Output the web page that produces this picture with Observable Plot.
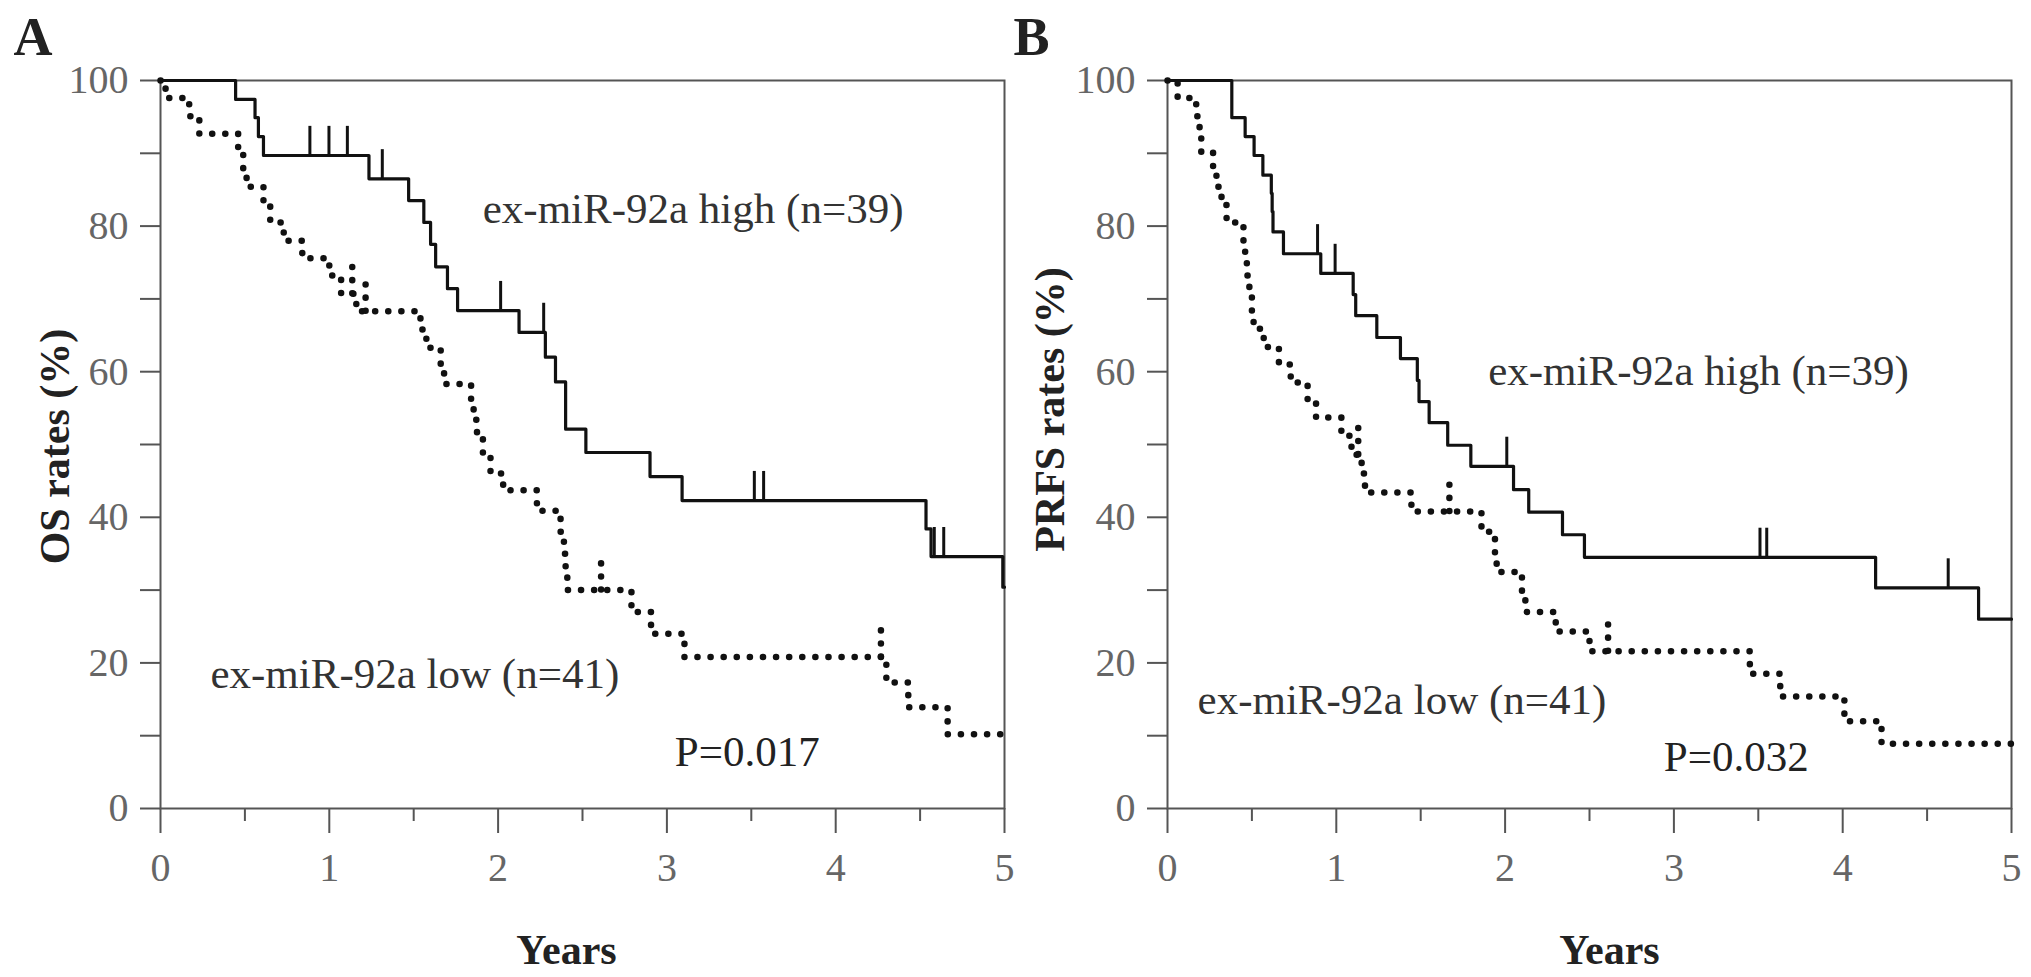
<!DOCTYPE html>
<html>
<head>
<meta charset="utf-8">
<script src="https://cdn.jsdelivr.net/npm/d3@7"></script>
<script src="https://cdn.jsdelivr.net/npm/@observablehq/plot@0.6"></script>
<style>
  body { margin: 0; background: #fff; }
  #fig { position: relative; width: 2031px; height: 977px; overflow: hidden; background: #fff; }
  #panel-a { position: absolute; left: 0; top: 0; }
  #panel-b { position: absolute; left: 1010px; top: 0; }
  #fig svg { overflow: visible; }
</style>
</head>
<body>
<div id="fig"><div id="panel-a"></div><div id="panel-b"></div></div>
<script>
// OS, ex-miR-92a high (n=39): step times (years) and rate after each step (%)
const osHighYears = [0, 0.445, 0.56, 0.58, 0.61, 1.235, 1.47, 1.56, 1.60, 1.63, 1.70, 1.76, 2.124, 2.28, 2.34, 2.40, 2.52, 2.90, 3.09, 4.535, 4.565, 4.99, 5.0];
const osHighRate = [100, 97.4, 94.9, 92.3, 89.7, 86.5, 83.5, 80.5, 77.5, 74.4, 71.4, 68.4, 65.4, 62.0, 58.6, 52.1, 48.9, 45.6, 42.3, 38.4, 34.6, 30.4, 30.4];
const osHighCensored = [0.885, 0.998, 1.107, 1.314, 2.015, 2.27, 3.518, 3.573, 4.584, 4.640];

// OS, ex-miR-92a low (n=41)
const osLowYears = [0, 0.03, 0.17, 0.23, 0.46, 0.49, 0.51, 0.61, 0.65, 0.73, 0.84, 1.00, 1.07, 1.16, 1.54, 1.575, 1.66, 1.68, 1.84, 1.855, 1.875, 1.91, 1.955, 2.03, 2.23, 2.37, 2.39, 2.40, 2.41, 2.79, 2.906, 3.104, 4.30, 4.43, 4.663, 5.0];
const osLowRate = [100, 97.6, 95.1, 92.7, 90.2, 87.8, 85.4, 82.9, 80.5, 78.0, 75.6, 73.2, 70.7, 68.3, 65.8, 63.3, 60.8, 58.3, 55.9, 53.4, 50.9, 48.5, 46.0, 43.7, 40.9, 38.0, 35.0, 32.5, 30.0, 27.0, 24.0, 20.8, 17.3, 13.9, 10.2, 10.2];
const osLowCensored = [1.136, 1.215, 2.61, 4.268];

// PRFS, ex-miR-92a high (n=39)
const prfsHighYears = [0, 0.381, 0.46, 0.513, 0.565, 0.615, 0.62, 0.625, 0.687, 0.908, 1.10, 1.115, 1.24, 1.38, 1.48, 1.49, 1.55, 1.66, 1.797, 2.05, 2.14, 2.34, 2.47, 4.195, 4.805, 5.0];
const prfsHighRate = [100, 94.9, 92.3, 89.7, 87.0, 84.5, 82.0, 79.2, 76.2, 73.5, 70.6, 67.7, 64.7, 61.8, 58.8, 55.9, 53.0, 49.9, 47.0, 43.8, 40.7, 37.6, 34.5, 30.3, 26.0, 26.0];
const prfsHighCensored = [0.889, 0.993, 2.01, 3.51, 3.55, 4.625];

// PRFS, ex-miR-92a low (n=41)
const prfsLowYears = [0, 0.06, 0.17, 0.19, 0.20, 0.27, 0.29, 0.32, 0.35, 0.45, 0.46, 0.47, 0.485, 0.50, 0.51, 0.57, 0.66, 0.73, 0.83, 0.88, 1.03, 1.09, 1.15, 1.17, 1.445, 1.86, 1.94, 1.95, 2.10, 2.12, 2.30, 2.50, 3.45, 3.63, 4.01, 4.23, 5.0];
const prfsLowRate = [100, 97.6, 95.1, 92.7, 90.2, 87.8, 85.4, 82.9, 80.5, 78.0, 75.6, 73.2, 70.7, 68.3, 65.9, 63.4, 61.0, 58.5, 56.1, 53.7, 51.2, 48.6, 46.0, 43.4, 40.8, 38.0, 35.2, 32.5, 29.5, 27.0, 24.3, 21.6, 18.5, 15.4, 12.0, 8.9, 8.9];
const prfsLowCensored = [1.13, 1.67, 2.61];

const yearTicks = [0, 1, 2, 3, 4, 5];
const yearMinorTicks = [0.5, 1.5, 2.5, 3.5, 4.5];
const rateTicks = [0, 20, 40, 60, 80, 100];
const rateMinorTicks = [10, 30, 50, 70, 90];

const serif = "'Liberation Serif', 'DejaVu Serif', serif";

function steps(years, rates) {
  return years.map((t, i) => ({t, s: rates[i]}));
}

// censor marks sit on the curve level at that time
function censorMarks(times, years, rates) {
  return times.map((t) => {
    let s = rates[0];
    for (let i = 0; i < years.length; i++) if (years[i] <= t) s = rates[i];
    return {t, s};
  });
}

function drawPanel(p) {
  const high = steps(p.highYears, p.highRate);
  const low = steps(p.lowYears, p.lowRate);
  const highCens = censorMarks(p.highCensored, p.highYears, p.highRate);
  const lowCens = censorMarks(p.lowCensored, p.lowYears, p.lowRate);
  const axisStyle = {stroke: "#555", strokeWidth: 2, label: null};
  const dotted = {stroke: "#111", strokeWidth: 6.5, strokeDasharray: "0.1 13", strokeLinecap: "round"};

  return Plot.plot({
    width: p.width,
    height: 977,
    marginLeft: p.marginLeft,
    marginRight: p.marginRight,
    marginTop: 80,
    marginBottom: 169,
    x: {domain: [0, 5]},
    y: {domain: [0, 100]},
    style: {fontFamily: serif, background: "transparent", overflow: "visible"},
    marks: [
      Plot.axisY({...axisStyle, ticks: rateTicks, tickSize: 20, tickPadding: 12, fontSize: 40, fill: "#666", tickFormat: (d) => String(d)}),
      Plot.axisY({...axisStyle, ticks: rateMinorTicks, tickSize: 20, tickFormat: () => ""}),
      Plot.axisX({...axisStyle, ticks: yearTicks, tickSize: 25, tickPadding: 19, fontSize: 40, fill: "#666", tickFormat: (d) => String(d)}),
      Plot.axisX({...axisStyle, ticks: yearMinorTicks, tickSize: 13, tickFormat: () => ""}),
      Plot.frame({stroke: "#555", strokeWidth: 2}),
      Plot.line(low, {x: "t", y: "s", curve: "step-after", ...dotted}),
      Plot.ruleX(lowCens, {x: "t", y1: "s", y2: (d) => d.s + 3.8, ...dotted}),
      Plot.line(high, {x: "t", y: "s", curve: "step-after", stroke: "#111", strokeWidth: 3.2}),
      Plot.ruleX(highCens, {x: "t", y1: "s", y2: (d) => d.s + 4, stroke: "#111", strokeWidth: 3}),
      Plot.text([p.highLabel], {x: p.highAt[0], y: p.highAt[1], textAnchor: "start", lineAnchor: "middle", fontSize: 43, fill: "#333"}),
      Plot.text([p.lowLabel], {x: p.lowAt[0], y: p.lowAt[1], textAnchor: "start", lineAnchor: "middle", fontSize: 43, fill: "#333"}),
      Plot.text([p.pValue], {x: p.pAt[0], y: p.pAt[1], textAnchor: "start", lineAnchor: "middle", fontSize: 43, fill: "#222"}),
      Plot.text([p.yLabel], {frameAnchor: "left", rotate: -90, dx: p.yLabelDx, dy: p.yLabelDy, textAnchor: "middle", lineAnchor: "middle", fontSize: 42, fontWeight: "bold", fill: "#222"}),
      Plot.text(["Years"], {frameAnchor: "bottom", dx: p.yearsDx, dy: 142, lineAnchor: "middle", fontSize: 42, fontWeight: "bold", fill: "#222"}),
      Plot.text([p.letter], {frameAnchor: "top-left", dx: p.letterDx, dy: -43, textAnchor: "start", lineAnchor: "middle", fontSize: 54, fontWeight: "bold", fill: "#222"})
    ]
  });
}

const chartA = drawPanel({
  width: 1010, marginLeft: 160, marginRight: 6,
  highYears: osHighYears, highRate: osHighRate, highCensored: osHighCensored,
  lowYears: osLowYears, lowRate: osLowRate, lowCensored: osLowCensored,
  highLabel: "ex-miR-92a high (n=39)", highAt: [1.909, 82.3],
  lowLabel: "ex-miR-92a low (n=41)", lowAt: [0.296, 18.4],
  pValue: "P=0.017", pAt: [3.047, 7.7],
  yLabel: "OS rates (%)", yLabelDx: -105, yLabelDy: 2,
  yearsDx: -16, letter: "A", letterDx: -147
});

const chartB = drawPanel({
  width: 1021, marginLeft: 157, marginRight: 20,
  highYears: prfsHighYears, highRate: prfsHighRate, highCensored: prfsHighCensored,
  lowYears: prfsLowYears, lowRate: prfsLowRate, lowCensored: prfsLowCensored,
  highLabel: "ex-miR-92a high (n=39)", highAt: [1.90, 60.1],
  lowLabel: "ex-miR-92a low (n=41)", lowAt: [0.178, 14.9],
  pValue: "P=0.032", pAt: [2.94, 7.1],
  yLabel: "PRFS rates (%)", yLabelDx: -117, yLabelDy: -35,
  yearsDx: 20, letter: "B", letterDx: -154
});

d3.select("#panel-a").append(() => chartA);
d3.select("#panel-b").append(() => chartB);
</script>
</body>
</html>
